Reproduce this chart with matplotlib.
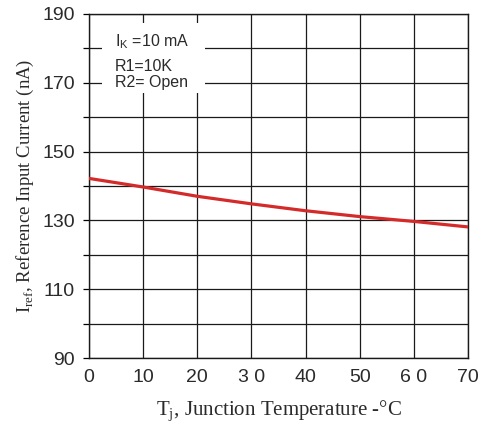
import numpy as np
import matplotlib.pyplot as plt
from matplotlib.patches import Rectangle

# Reference input current vs junction temperature
temp_c = [0, 10, 20, 30, 40, 50, 60, 70]
iref_na = [142.2, 139.7, 137.0, 134.8, 132.8, 131.1, 129.7, 128.1]

x_ticks = [0, 10, 20, 30, 40, 50, 60, 70]
x_tick_labels = ['0', '10', '20', '3 0', '40', '50', '6 0', '70']
y_ticks = [90, 110, 130, 150, 170, 190]

fig = plt.figure(figsize=(4.81, 4.34), dpi=100)
ax = fig.add_axes([0.185, 0.175, 0.788, 0.793])

ax.plot(temp_c, iref_na, color='#d42a2a', linewidth=2.3, zorder=3)

ax.set_xlim(0, 70)
ax.set_ylim(90, 190)
ax.set_xticks(x_ticks)
ax.set_xticklabels(x_tick_labels, fontfamily='Liberation Sans', fontsize=14, color='#2a2a2a')
ax.set_yticks(y_ticks)
ax.set_yticks(np.arange(90, 191, 10), minor=True)
ax.set_yticklabels([str(v) for v in y_ticks], fontfamily='Liberation Sans', fontsize=14, color='#2a2a2a')
ax.grid(True, which='both', color='#1a1a1a', linewidth=0.9)
ax.tick_params(axis='y', which='both', length=4, width=0.9, pad=6)
ax.tick_params(axis='x', length=0, pad=8)
for s in ax.spines.values():
    s.set_color('#1a1a1a')
    s.set_linewidth(1.0)

ax.set_xlabel(r'T$_\mathregular{j}$, Junction Temperature -°C',
              fontfamily='Liberation Serif', fontsize=15, labelpad=9, color='#2a2a2a')
ax.set_ylabel(r'I$_\mathregular{ref}$, Reference Input Current (nA)',
              fontfamily='Liberation Serif', fontsize=13.5, labelpad=5, color='#2a2a2a')

# white box behind the test conditions
ax.add_patch(Rectangle((0.034, 0.770), 0.272, 0.204, transform=ax.transAxes,
                       facecolor='white', edgecolor='none', zorder=4))
cond_lines = ['I$_\\mathregular{K}$ =10 mA', 'R1=10K', 'R2= Open']
cond_y = [0.907, 0.835, 0.787]
for txt, yy in zip(cond_lines, cond_y):
    ax.text(0.068, yy, txt, transform=ax.transAxes, ha='left', va='baseline',
            fontfamily='Liberation Sans', fontsize=11.5, color='#2a2a2a', zorder=5)

fig.savefig('out.png', dpi=100)
